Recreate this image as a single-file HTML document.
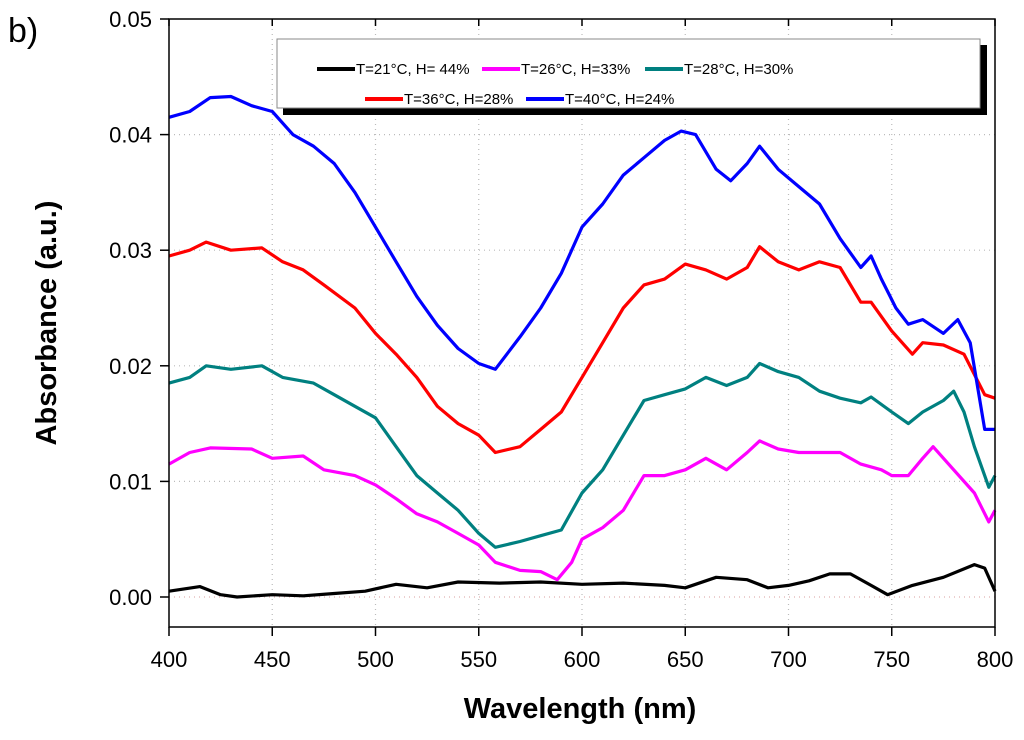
<!DOCTYPE html>
<html><head><meta charset="utf-8"><style>
html,body{margin:0;padding:0;background:#fff;}
svg{display:block;font-family:"Liberation Sans",Arial,sans-serif;}
</style></head><body>
<svg id="chart" width="1024" height="740" viewBox="0 0 1024 740">
<text x="8" y="42" font-size="34" fill="#000">b)</text>
<g id="grid"></g>
<g id="series"></g>
<rect x="169" y="19" width="826" height="608" fill="none" stroke="#000" stroke-width="1.5"/>
<g id="axes"></g>
<text x="580" y="718" font-size="29" font-weight="bold" text-anchor="middle">Wavelength (nm)</text>
<text transform="translate(56,323) rotate(-90)" font-size="29" font-weight="bold" text-anchor="middle">Absorbance (a.u.)</text>
<g>
<rect x="283" y="45" width="704" height="70" fill="#000"/>
<rect x="277" y="39" width="703" height="69" fill="#fff" stroke="#888" stroke-width="1"/>
<g id="legend-items"></g>
</g>
</svg>
<script>
const xTicks=[400,450,500,550,600,650,700,750,800];
const yTicks=[0,0.01,0.02,0.03,0.04,0.05];
const yTickLabels=["0.00","0.01","0.02","0.03","0.04","0.05"];
const seriesNames=["T=21°C, H= 44%","T=26°C, H=33%","T=28°C, H=30%","T=36°C, H=28%","T=40°C, H=24%"];
const seriesColors=["#000000","#ff00ff","#008080","#ff0000","#0000ff"];
const wlBlack=[400,415,425,433,450,465,480,495,510,525,540,560,580,600,620,640,650,665,680,690,700,710,720,730,740,748,760,775,790,795,800];
const absBlack=[0.0005,0.0009,0.0002,0.0,0.0002,0.0001,0.0003,0.0005,0.0011,0.0008,0.0013,0.0012,0.0013,0.0011,0.0012,0.001,0.0008,0.0017,0.0015,0.0008,0.001,0.0014,0.002,0.002,0.001,0.0002,0.001,0.0017,0.0028,0.0025,0.0005];
const wlMagenta=[400,410,420,440,450,465,475,490,500,510,520,530,540,550,558,570,580,588,595,600,610,620,630,640,650,660,670,680,686,695,705,715,725,735,745,750,758,765,770,780,790,797,800];
const absMagenta=[0.0115,0.0125,0.0129,0.0128,0.012,0.0122,0.011,0.0105,0.0097,0.0085,0.0072,0.0065,0.0055,0.0045,0.003,0.0023,0.0022,0.0015,0.003,0.005,0.006,0.0075,0.0105,0.0105,0.011,0.012,0.011,0.0125,0.0135,0.0128,0.0125,0.0125,0.0125,0.0115,0.011,0.0105,0.0105,0.012,0.013,0.011,0.009,0.0065,0.0075];
const wlTeal=[400,410,418,430,445,455,470,480,490,500,510,520,530,540,550,558,570,580,590,600,610,620,630,640,650,660,670,680,686,695,705,715,725,735,740,750,758,765,775,780,785,790,797,800];
const absTeal=[0.0185,0.019,0.02,0.0197,0.02,0.019,0.0185,0.0175,0.0165,0.0155,0.013,0.0105,0.009,0.0075,0.0055,0.0043,0.0048,0.0053,0.0058,0.009,0.011,0.014,0.017,0.0175,0.018,0.019,0.0183,0.019,0.0202,0.0195,0.019,0.0178,0.0172,0.0168,0.0173,0.016,0.015,0.016,0.017,0.0178,0.016,0.013,0.0095,0.0105];
const wlRed=[400,410,418,430,445,455,465,475,490,500,510,520,530,540,550,558,570,580,590,600,610,620,630,640,650,660,670,680,686,695,705,715,725,735,740,750,760,765,775,785,795,800];
const absRed=[0.0295,0.03,0.0307,0.03,0.0302,0.029,0.0283,0.027,0.025,0.0228,0.021,0.019,0.0165,0.015,0.014,0.0125,0.013,0.0145,0.016,0.019,0.022,0.025,0.027,0.0275,0.0288,0.0283,0.0275,0.0285,0.0303,0.029,0.0283,0.029,0.0285,0.0255,0.0255,0.023,0.021,0.022,0.0218,0.021,0.0175,0.0172];
const wlBlue=[400,410,420,430,440,450,460,470,480,490,500,510,520,530,540,550,558,570,580,590,600,610,620,630,640,648,655,665,672,680,686,695,705,715,725,735,740,745,752,758,765,775,782,788,795,800];
const absBlue=[0.0415,0.042,0.0432,0.0433,0.0425,0.042,0.04,0.039,0.0375,0.035,0.032,0.029,0.026,0.0235,0.0215,0.0202,0.0197,0.0225,0.025,0.028,0.032,0.034,0.0365,0.038,0.0395,0.0403,0.04,0.037,0.036,0.0375,0.039,0.037,0.0355,0.034,0.031,0.0285,0.0295,0.0275,0.025,0.0236,0.024,0.0228,0.024,0.022,0.0145,0.0145];
const X0=169,X1=995,Y0=597,YT=19,YB=627;
const xs=v=>X0+(v-400)/400*(X1-X0);
const ys=v=>Y0-(v/0.05)*(Y0-YT);
const NS="http://www.w3.org/2000/svg";
function mk(tag,attrs,parent){const e=document.createElementNS(NS,tag);for(const k in attrs)e.setAttribute(k,attrs[k]);parent.appendChild(e);return e;}
const grid=document.getElementById('grid'),axes=document.getElementById('axes'),ser=document.getElementById('series');
xTicks.forEach(t=>{
  const x=xs(t);
  if(t>400&&t<800){const g=mk('line',{x1:x,x2:x,y1:YT,y2:YB,stroke:'#bbb','stroke-dasharray':'1,4','stroke-width':1.2},grid);
  
  }
  const tk=mk('line',{x1:x,x2:x,y1:YB,y2:YB+9,stroke:'#000','stroke-width':1.5},axes);
  
  
  const tt=mk('line',{x1:x,x2:x,y1:YT,y2:YT+7,stroke:'#000','stroke-width':1.5},axes);
  
  
  const l=mk('text',{x:x,y:667,'font-size':22,'text-anchor':'middle'},axes);l.textContent=t;
  
  
});
yTicks.forEach((t,i)=>{
  const y=ys(t);
  if(i<yTicks.length-1){const g=mk('line',{x1:X0,x2:X1,y1:y,y2:y,stroke:i==0?'#e0b0b0':'#bbb','stroke-dasharray':'1,4','stroke-width':1.2},grid);
  
  }
  const tk=mk('line',{x1:X0-9,x2:X0,y1:y,y2:y,stroke:'#000','stroke-width':1.5},axes);
  
  
  const l=mk('text',{x:152,y:y+8,'font-size':22,'text-anchor':'end'},axes);l.textContent=yTickLabels[i];
  
  
});
const allW=[wlBlack,wlMagenta,wlTeal,wlRed,wlBlue],allA=[absBlack,absMagenta,absTeal,absRed,absBlue];
const sNames=['series-21c','series-26c','series-28c','series-36c','series-40c'];
allW.forEach((w,i)=>{
  const d=w.map((v,j)=>(j?'L':'M')+xs(v).toFixed(1)+','+ys(allA[i][j]).toFixed(1)).join(' ');
  const p=mk('path',{d:d,fill:'none',stroke:seriesColors[i],'stroke-width':3.2,'stroke-linejoin':'round'},ser);
  
  
});
const li=document.getElementById('legend-items');
const lpos=[[305,69],[470,69],[633,69],[353,99],[514,99]];
seriesNames.forEach((n,i)=>{
  const [x,y]=lpos[i];
  const g=mk('g',{},li);
  
  
  mk('line',{x1:x+12,x2:x+50,y1:y,y2:y,stroke:seriesColors[i],'stroke-width':4},g);
  const t=mk('text',{x:x+51,y:y+5,'font-size':15},g);t.textContent=n;
});
</script>
</body></html>
